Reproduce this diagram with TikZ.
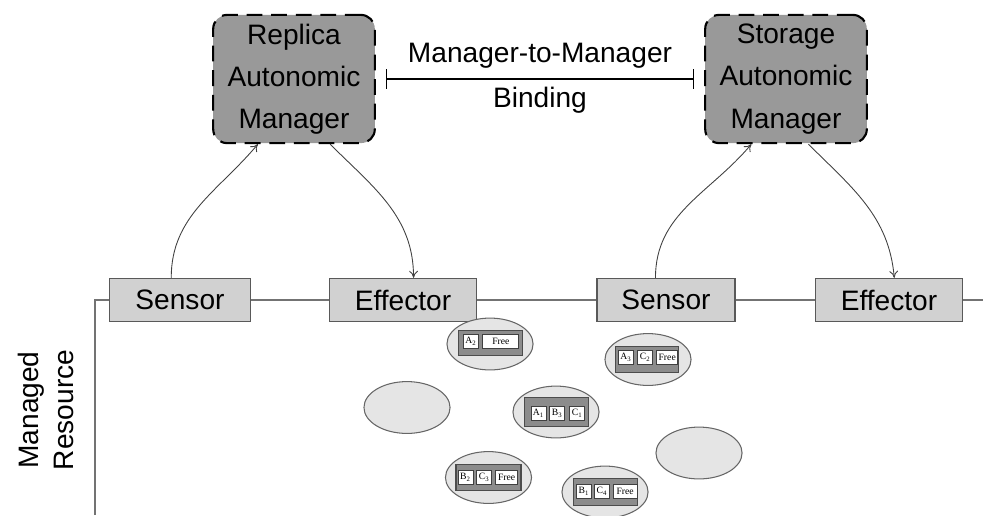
\documentclass[tikz,border=0pt]{standalone}
\usepackage{fontspec}
\setmainfont{Liberation Sans}
\newfontfamily\slotfont{Liberation Serif}
\usetikzlibrary{positioning,shapes.geometric,arrows.meta}

\tikzset{
  manager/.style={draw=black, line width=1.2pt, dash pattern=on 9pt off 5pt, fill=black!40,
    rounded corners=8pt, minimum width=92pt, minimum height=73pt, align=center, inner sep=0pt},
  port/.style={draw=black!65, line width=0.7pt, fill=black!18, minimum height=24.5pt, inner sep=0pt},
  resline/.style={draw=black!55, line width=0.6pt},
  feed/.style={draw=black!75, line width=0.5pt, -{To[length=4pt,width=5pt]}},
  binding/.style={line width=1pt, {Bar[width=11pt]}-{Bar[width=11pt]}, shorten <=5.5pt, shorten >=5.5pt},
  resource/.style={ellipse, draw=black!60, line width=0.6pt, fill=black!10,
    minimum width=49pt, minimum height=29.5pt, inner sep=0pt},
  rack/.style={draw=black!70, line width=0.6pt, fill=black!45, minimum width=36pt, minimum height=15pt, inner sep=0pt},
  slot/.style={draw=black!75, line width=0.5pt, fill=white, minimum width=8.5pt, minimum height=8pt,
    inner sep=0pt, font=\slotfont\fontsize{5.5}{6}\selectfont},
}

\begin{document}
\begin{tikzpicture}[x=0.02cm, y=-0.02cm, font=\fontsize{16}{24}\selectfont]
  \useasboundingbox (0,0) rectangle (983,515);

  % autonomic managers
  \node[manager] (ram) at (294,79) {Replica\\Autonomic\\Manager};
  \node[manager] (sam) at (786,79) {Storage\\Autonomic\\Manager};
  \draw[binding] (ram) -- (sam)
    node[midway, above=2pt] {Manager-to-Manager}
    node[midway, below=1pt] {Binding};

  % touchpoints
  \node[port, minimum width=80pt] (s1) at (180,300) {Sensor};
  \node[port, minimum width=83.5pt] (e1) at (403,300) {Effector};
  \node[port, minimum width=78.5pt] (s2) at (666,300) {Sensor};
  \node[port, minimum width=84pt] (e2) at (889,300) {Effector};

  \coordinate (corner) at (95,300);
  \coordinate (floor) at (95,515);
  \coordinate (edge) at (990,300);
  \draw[resline] (floor) -- (corner) -- (s1) -- (e1) -- (s2) -- (e2) -- (edge);

  \node[rotate=90, align=center, font=\fontsize{16}{20}\selectfont] (mr) at (46,410) {Managed\\Resource};

  % control loops
  \draw[feed] ([xshift=-5pt]s1.north) to[out=90, in=-130] (ram.-119);
  \draw[feed] (ram.-61) to[out=-45, in=90] ([xshift=6pt]e1.north);
  \draw[feed] ([xshift=-6pt]s2.north) to[out=90, in=-130] (sam.-118);
  \draw[feed] (sam.-71) to[out=-45, in=95] ([xshift=3pt]e2.north);

  % storage nodes
  \node[resource] (m1) at (490,344) {};
  \node[rack, minimum height=14pt] (r1) at (490.5,343) {};
  \node[slot] (r1a) at (471,341.5) {A\textsubscript{2}};
  \node[slot, minimum width=20.5pt, right=2pt of r1a] (r1b) {Free};

  \node[resource] (m2) at (648,359.5) {};
  \node[rack] (r2) at (647,359.5) {};
  \node[slot] (r2a) at (626,357) {A\textsubscript{3}};
  \node[slot, right=2pt of r2a] (r2b) {C\textsubscript{2}};
  \node[slot, minimum width=12pt, right=1.7pt of r2b] (r2c) {Free};

  \node[resource] (m3) at (556,412) {};
  \node[rack, minimum height=16pt] (r3) at (556.5,412) {};
  \node[slot] (r3a) at (538.5,413) {A\textsubscript{1}};
  \node[slot, right=1.7pt of r3a] (r3b) {B\textsubscript{3}};
  \node[slot, right=2.3pt of r3b] (r3c) {C\textsubscript{1}};

  \node[resource] (m4) at (407,407.5) {};
  \node[resource] (m5) at (699,453) {};

  \node[resource] (m6) at (488.5,477.5) {};
  \node[rack, minimum width=37pt] (r6) at (488.5,477.5) {};
  \node[slot] (r6a) at (465.5,477.5) {B\textsubscript{2}};
  \node[slot, right=1.7pt of r6a] (r6b) {C\textsubscript{3}};
  \node[slot, minimum width=12.5pt, right=1.7pt of r6b] (r6c) {Free};

  \node[resource] (m7) at (605,492) {};
  \node[rack] (r7) at (605.5,492) {};
  \node[slot] (r7a) at (584,491.5) {B\textsubscript{1}};
  \node[slot, right=1.2pt of r7a] (r7b) {C\textsubscript{4}};
  \node[slot, minimum width=13.5pt, right=1.7pt of r7b] (r7c) {Free};
\end{tikzpicture}
\end{document}
